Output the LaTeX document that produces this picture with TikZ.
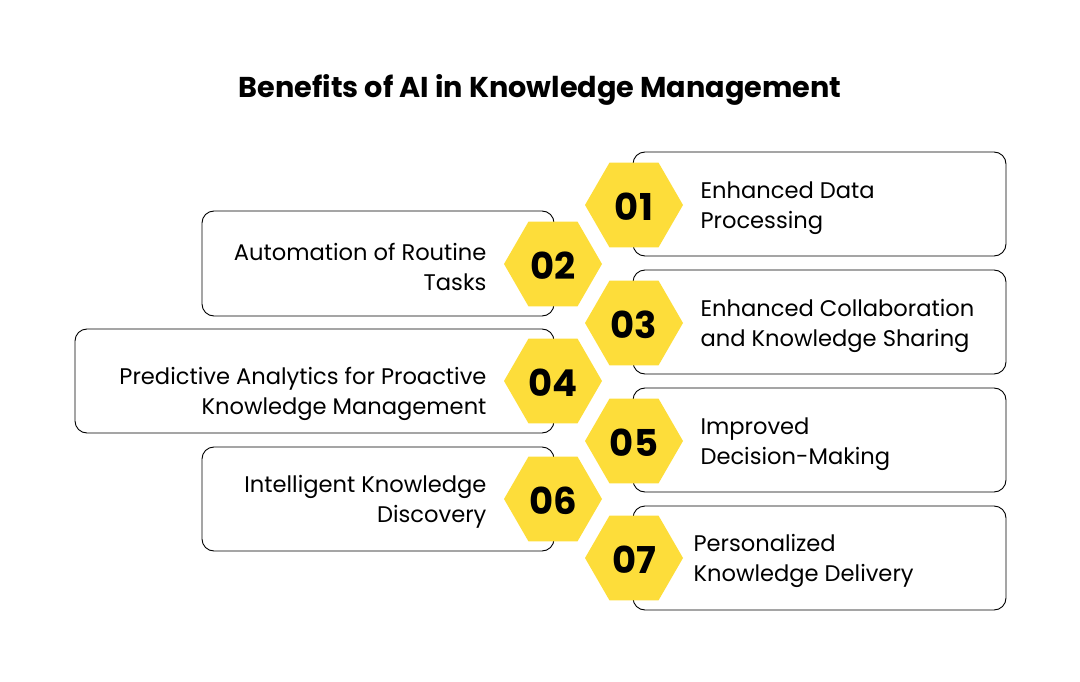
\documentclass[tikz,border=0pt]{standalone}
\usepackage{fontspec}
\setmainfont{Poppins}
\definecolor{hexy}{HTML}{FDDD3A}
\begin{document}
\begin{tikzpicture}[x=1pt,y=-1pt,
 box/.style={draw=black,line width=0.9pt,rounded corners=12pt,fill=white},
 hex/.style={fill=hexy,draw=none},
 num/.style={font=\fontsize{37}{37}\selectfont\bfseries},
 rtxt/.style={anchor=west,align=left,font=\fontsize{22.6}{30}\selectfont},
 ltxt/.style={anchor=east,align=right,font=\fontsize{22.6}{30}\selectfont}]
\useasboundingbox (0,0) rectangle (1080,682);
\node[font=\fontsize{28.7}{32}\selectfont\bfseries] (title) at (540,90) {Benefits of AI in Knowledge Management};
% boxes
\draw[box] (633,152) rectangle (1006,256);
\draw[box] (633,270) rectangle (1006,374);
\draw[box] (633,388) rectangle (1006,492);
\draw[box] (633,506) rectangle (1006,610);
\draw[box] (202,211) rectangle (554,316);
\draw[box] (75,329) rectangle (554,433);
\draw[box] (202,447) rectangle (554,551);
% hexagons
\foreach \n/\cx/\cy in {01/634/205,02/553/264,03/634/323,04/553/381,05/634/441,06/553/499,07/634/558}{
  \fill[hex] (\cx,\cy) ++(49,0) -- ++(-24.5,-42.4) -- ++(-49,0) -- ++(-24.5,42.4) -- ++(24.5,42.4) -- ++(49,0) -- cycle;
  \node[num] (n\n) at (\cx,\cy+2) {\n};
}
\node[rtxt] (t1) at (697,208) {Enhanced Data\\Processing};
\node[ltxt] (t2) at (490,267) {Automation of Routine\\Tasks};
\node[rtxt] (t3) at (697,326) {Enhanced Collaboration\\and Knowledge Sharing};
\node[ltxt] (t4) at (490,394) {Predictive Analytics for Proactive\\Knowledge Management};
\node[rtxt] (t5) at (697,444) {Improved\\Decision-Making};
\node[ltxt] (t6) at (490,502) {Intelligent Knowledge\\Discovery};
\node[rtxt] (t7) at (690,561) {Personalized\\Knowledge Delivery};
\end{tikzpicture}
\end{document}
